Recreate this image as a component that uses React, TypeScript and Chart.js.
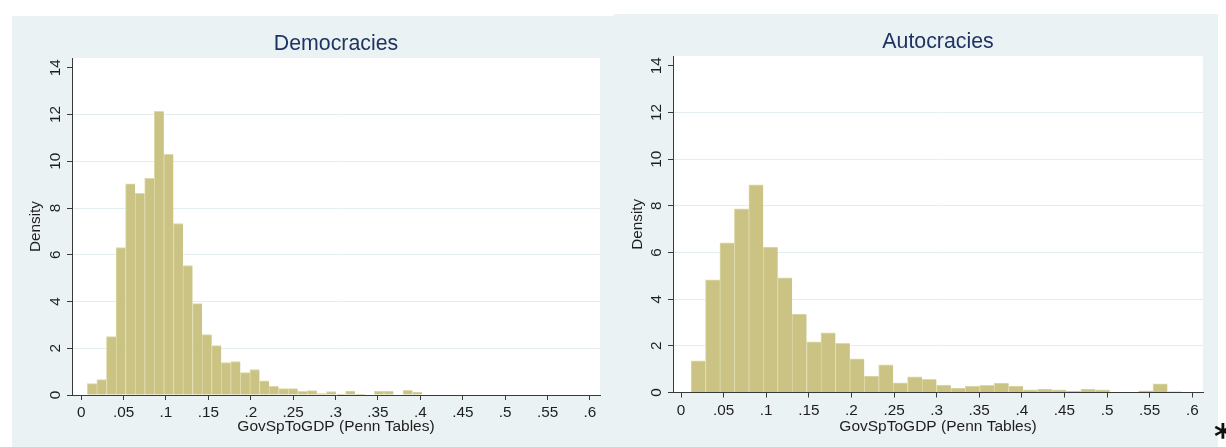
import React, { useEffect, useRef } from "react";
import { Chart, registerables } from "chart.js";

Chart.register(...registerables);

// ---- Data ----
const DEM_TITLE = "Democracies";
const DEM_BIN_START = 0.0072;
const DEM_BIN_WIDTH = 0.01128;
const DEM_DENSITY = [
  0.49, 0.66, 2.5, 6.31, 9.04, 8.63, 9.27, 12.14, 10.3, 7.34,
  5.54, 3.91, 2.59, 2.11, 1.39, 1.43, 0.96, 1.09, 0.61, 0.37,
  0.28, 0.28, 0.16, 0.19, 0.06, 0.15, 0.04, 0.17, 0.03, 0.02,
  0.17, 0.17, 0.02, 0.2, 0.12,
];

const AUT_TITLE = "Autocracies";
const AUT_BIN_START = 0.0118;
const AUT_BIN_WIDTH = 0.01694;
const AUT_DENSITY = [
  1.36, 4.83, 6.41, 7.87, 8.9, 6.23, 4.91, 3.36, 2.17, 2.56,
  2.11, 1.44, 0.7, 1.19, 0.41, 0.67, 0.56, 0.32, 0.19, 0.28,
  0.31, 0.4, 0.28, 0.11, 0.15, 0.11, 0.05, 0.15, 0.11, 0,
  0.02, 0.07, 0.37, 0.03,
];

const X_TICKS = [0, 0.05, 0.1, 0.15, 0.2, 0.25, 0.3, 0.35, 0.4, 0.45, 0.5, 0.55, 0.6];
const X_TICK_LABELS = ["0", ".05", ".1", ".15", ".2", ".25", ".3", ".35", ".4", ".45", ".5", ".55", ".6"];
const Y_TICKS = [0, 2, 4, 6, 8, 10, 12, 14];
const Y_TICK_LABELS = ["0", "2", "4", "6", "8", "10", "12", "14"];
const X_TITLE = "GovSpToGDP (Penn Tables)";
const Y_TITLE = "Density";

// ---- Styles ----
const FONT = "'Liberation Sans', Arial, Helvetica, sans-serif";
const PANEL_BG = "#eaf2f3";
const GRID_COLOR = "#e4eef0";
const AXIS_COLOR = "#3a3a3a";
const TEXT_COLOR = "#1e1e1e";
const TITLE_COLOR = "#1e3462";
const BAR_FILL = "#cac384";
const BAR_EDGE = "#dedaa8";

type PanelProps = {
  left: number;
  top: number;
  width: number;
  height: number;
  title: string;
  values: number[];
  binStart: number;
  binWidth: number;
  area: { left: number; right: number; top: number; bottom: number };
  xMin: number;
  xMax: number;
  yMax: number;
};

const plotBg = {
  id: "plotBg",
  beforeDraw(chart: any) {
    const { ctx, chartArea } = chart;
    ctx.save();
    ctx.fillStyle = "#ffffff";
    ctx.fillRect(chartArea.left, chartArea.top, chartArea.right - chartArea.left, chartArea.bottom - chartArea.top);
    ctx.restore();
  },
};

function HistPanel(p: PanelProps) {
  const ref = useRef<HTMLCanvasElement>(null);
  useEffect(() => {
    const titleSize = 21.3;
    const titleLine = titleSize * 1.2;
    const titleTop = 28 - titleLine / 2;
    const chart = new Chart(ref.current as HTMLCanvasElement, {
      type: "bar",
      data: {
        datasets: [
          {
            data: p.values.map((y, i) => ({ x: p.binStart + (i + 0.5) * p.binWidth, y })),
            backgroundColor: BAR_FILL,
            borderColor: BAR_EDGE,
            borderWidth: { top: 1, left: 1, right: 0, bottom: 0 },
            borderSkipped: "start",
            barPercentage: 1,
            categoryPercentage: 1,
          } as any,
        ],
      },
      options: {
        animation: false,
        responsive: false,
        maintainAspectRatio: false,
        events: [],
        layout: { padding: { left: 0, top: 0, bottom: 0, right: p.width - p.area.right } },
        plugins: {
          legend: { display: false },
          tooltip: { enabled: false },
          title: {
            display: true,
            text: p.title,
            color: TITLE_COLOR,
            fullSize: false,
            font: { family: FONT, size: titleSize, weight: "normal" },
            padding: { top: titleTop, bottom: p.area.top - titleLine - titleTop },
          },
        },
        scales: {
          x: {
            type: "linear",
            min: p.xMin,
            max: p.xMax,
            offset: false,
            afterBuildTicks: (s: any) => {
              s.ticks = X_TICKS.map((v) => ({ value: v }));
            },
            afterFit: (s: any) => {
              s.height = p.height - p.area.bottom;
            },
            grid: {
              display: true,
              drawOnChartArea: false,
              drawTicks: true,
              tickLength: 5,
              tickColor: AXIS_COLOR,
              color: AXIS_COLOR,
              offset: false,
            },
            border: { display: true, color: AXIS_COLOR, width: 1, z: 1 },
            ticks: {
              autoSkip: false,
              minRotation: 0,
              maxRotation: 0,
              padding: 4,
              color: TEXT_COLOR,
              font: { family: FONT, size: 15.3 },
              callback: (_v: any, i: number) => X_TICK_LABELS[i],
            },
            title: {
              display: true,
              text: X_TITLE,
              color: TEXT_COLOR,
              font: { family: FONT, size: 15.5 },
              padding: { top: 0, bottom: 11.2 },
            },
          } as any,
          y: {
            type: "linear",
            min: 0,
            max: p.yMax,
            afterBuildTicks: (s: any) => {
              s.ticks = Y_TICKS.map((v) => ({ value: v }));
            },
            afterFit: (s: any) => {
              s.width = p.area.left;
            },
            grid: {
              display: true,
              drawOnChartArea: true,
              drawTicks: true,
              tickLength: 5,
              tickColor: AXIS_COLOR,
              color: (c: any) => (c.tick && (c.tick.value === 14 || c.tick.value === 0) ? "rgba(0,0,0,0)" : GRID_COLOR),
            },
            border: { display: true, color: AXIS_COLOR, width: 1, z: 1 },
            ticks: {
              autoSkip: false,
              minRotation: 90,
              maxRotation: 90,
              crossAlign: "center",
              padding: 3,
              color: TEXT_COLOR,
              font: { family: FONT, size: 15.3 },
              callback: (_v: any, i: number) => Y_TICK_LABELS[i],
            },
            title: {
              display: true,
              text: Y_TITLE,
              color: TEXT_COLOR,
              font: { family: FONT, size: 15.3 },
              padding: { top: 15, bottom: 0 },
            },
          } as any,
        },
      },
      plugins: [plotBg],
    });
    return () => chart.destroy();
  }, []);
  return (
    <div
      style={{
        position: "absolute",
        left: p.left,
        top: p.top,
        width: p.width,
        height: p.height,
        background: PANEL_BG,
      }}
    >
      <canvas ref={ref} width={p.width} height={p.height} style={{ display: "block", width: p.width, height: p.height }} />
    </div>
  );
}

export default function App() {
  return (
    <div
      style={{
        position: "absolute",
        left: 0,
        top: 0,
        width: 1226,
        height: 447,
        overflow: "hidden",
        background: "#ffffff",
      }}
    >
      <HistPanel
        left={12}
        top={16}
        width={602}
        height={431}
        title={DEM_TITLE}
        values={DEM_DENSITY}
        binStart={DEM_BIN_START}
        binWidth={DEM_BIN_WIDTH}
        area={{ left: 60, right: 588, top: 42, bottom: 379 }}
        xMin={-0.01085}
        xMax={0.6118}
        yMax={14.42}
      />
      <HistPanel
        left={614}
        top={14}
        width={604}
        height={433}
        title={AUT_TITLE}
        values={AUT_DENSITY}
        binStart={AUT_BIN_START}
        binWidth={AUT_BIN_WIDTH}
        area={{ left: 59, right: 589, top: 42, bottom: 378.5 }}
        xMin={-0.0094}
        xMax={0.6126}
        yMax={14.42}
      />
      <span
        style={{
          position: "absolute",
          left: 1214,
          top: 419,
          fontFamily: "'DejaVu Sans', sans-serif",
          fontWeight: "bold",
          fontSize: 34,
          lineHeight: 1,
          color: "#111",
        }}
      >
        *
      </span>
    </div>
  );
}
